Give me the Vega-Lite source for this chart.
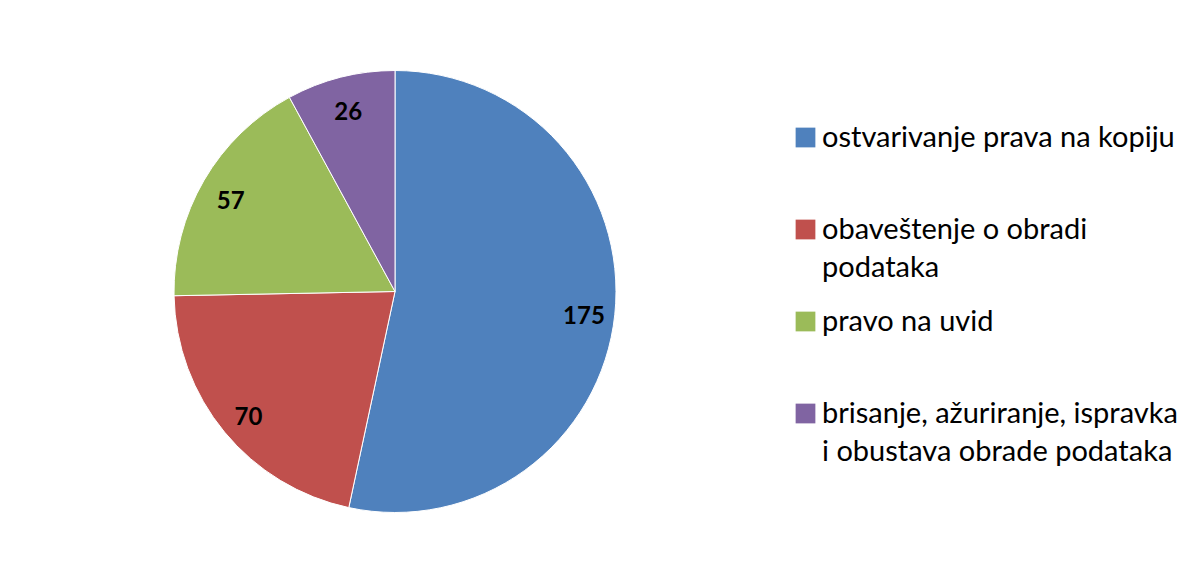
{
  "$schema": "https://vega.github.io/schema/vega-lite/v6.json",
  "width": 790,
  "height": 559,
  "padding": {"left": 0, "top": 12, "right": 412, "bottom": 0},
  "autosize": {"type": "none"},
  "background": "white",
  "config": {
    "view": {"stroke": null},
    "style": {"guide-label": {"lineHeight": 38}}
  },
  "data": {
    "values": [
      {"kategorija": "ostvarivanje prava na kopiju", "broj": 175, "red": 1},
      {"kategorija": "obaveštenje o obradi podataka", "broj": 70, "red": 2},
      {"kategorija": "pravo na uvid", "broj": 57, "red": 3},
      {"kategorija": "brisanje, ažuriranje, ispravka i obustava obrade podataka", "broj": 26, "red": 4}
    ]
  },
  "encoding": {
    "theta": {"field": "broj", "type": "quantitative", "stack": true},
    "order": {"field": "red", "type": "ordinal"}
  },
  "layer": [
    {
      "mark": {"type": "arc", "outerRadius": 221, "stroke": "white", "strokeWidth": 1},
      "encoding": {
        "color": {
          "field": "kategorija",
          "type": "nominal",
          "sort": null,
          "scale": {
            "domain": ["ostvarivanje prava na kopiju", "obaveštenje o obradi podataka", "pravo na uvid", "brisanje, ažuriranje, ispravka i obustava obrade podataka"],
            "range": ["#4F81BD", "#C0504D", "#9BBB59", "#8064A2"]
          },
          "legend": {
            "title": null,
            "orient": "none",
            "legendX": 791,
            "legendY": 111,
            "symbolType": "square",
            "symbolSize": 390,
            "symbolStrokeWidth": 0,
            "labelFont": "Lato",
            "labelFontSize": 29,
            "labelColor": "black",
            "labelLimit": 0,
            "labelOffset": 2,
            "rowPadding": 24,
            "gridAlign": "all",
            "labelExpr": "datum.label == 'obaveštenje o obradi podataka' ? ['obaveštenje o obradi', 'podataka'] : datum.label == 'brisanje, ažuriranje, ispravka i obustava obrade podataka' ? ['brisanje, ažuriranje, ispravka', 'i obustava obrade podataka'] : datum.label",
            "encode": {"labels": {"enter": {"lineHeight": {"value": 38}}, "update": {"lineHeight": {"value": 38}}}}
          }
        }
      }
    },
    {
      "mark": {"type": "text", "radius": 190, "dy": 6, "font": "Lato", "fontSize": 24, "fontWeight": "bold", "color": "black"},
      "encoding": {
        "text": {"field": "broj", "type": "quantitative"}
      }
    }
  ]
}
